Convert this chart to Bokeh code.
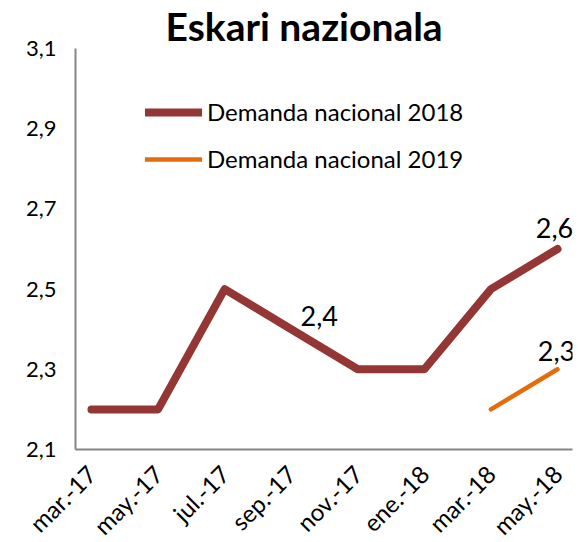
import math
from bokeh.plotting import figure
from bokeh.models import Range1d, FixedTicker, CustomJSTickFormatter, Legend, LegendItem, ColumnDataSource, LabelSet
from bokeh.core.properties import value
from bokeh.embed import file_html
from bokeh.resources import INLINE

months = ["mar.-17", "may.-17", "jul.-17", "sep.-17", "nov.-17", "ene.-18", "mar.-18", "may.-18"]
d2018 = [2.2, 2.2, 2.5, 2.4, 2.3, 2.3, 2.5, 2.6]
d2019 = [float("nan")] * 6 + [2.2, 2.3]
y_ticks = [2.1, 2.3, 2.5, 2.7, 2.9, 3.1]
label_idx = [3, 7, 7]
label_val = [2.4, 2.6, 2.3]
label_txt = ["2,4", "2,6", "2,3"]
label_dx = [28, -3, -1]
label_dy = [13, 21, 18]

FONT = "Lato"
xs = list(range(len(months)))

p = figure(frame_width=497, frame_height=401, output_backend="svg", toolbar_location=None,
           x_range=Range1d(-0.24, 7.225), y_range=Range1d(2.1, 3.1),
           min_border_left=75, min_border_right=6, min_border_top=47, min_border_bottom=80)
p.title.text = "Eskari nazionala"
p.title.text_font = FONT
p.title.text_font_size = "39px"
p.title.text_font_style = "bold"
p.title.text_color = "black"
p.title.align = "left"
p.title.offset = 90
p.title.standoff = 0
p.outline_line_color = None
p.grid.visible = False
p.background_fill_color = "white"

r1 = p.line(xs, d2018, line_color="#943634", line_width=8, line_cap="round", line_join="round")
r2 = p.line(xs, d2019, line_color="#E46C0A", line_width=4.5, line_cap="round", line_join="round")

src = ColumnDataSource(dict(x=label_idx, y=label_val, t=label_txt, dx=label_dx, dy=label_dy))
p.add_layout(LabelSet(x="x", y="y", text="t", x_offset="dx", y_offset="dy", source=src,
                      text_font=value(FONT), text_font_size="27px", text_color="black",
                      text_align="center", text_baseline="middle"))

p.xaxis.ticker = FixedTicker(ticks=xs)
p.xaxis.formatter = CustomJSTickFormatter(args=dict(labels=months), code="return labels[tick];")
p.xaxis.major_label_orientation = math.pi / 4
p.yaxis.ticker = FixedTicker(ticks=y_ticks)
p.yaxis.formatter = CustomJSTickFormatter(code="return tick.toFixed(1).replace('.', ',');")
for ax in (p.xaxis[0], p.yaxis[0]):
    ax.axis_line_color = "#868686"
    ax.axis_line_width = 2
    ax.major_tick_line_color = None
    ax.minor_tick_line_color = None
    ax.major_tick_out = 0
    ax.major_tick_in = 0
    ax.minor_tick_out = 0
    ax.minor_tick_in = 0
    ax.major_label_text_font = FONT
    ax.major_label_text_color = "black"
p.yaxis.major_label_text_font_size = "22px"
p.xaxis.major_label_text_font_size = "24px"
p.yaxis.major_label_standoff = 19
p.xaxis.major_label_standoff = 20

legend = Legend(items=[LegendItem(label="Demanda nacional 2018", renderers=[r1]),
                       LegendItem(label="Demanda nacional 2019", renderers=[r2])],
                location=(70, 276), padding=0, margin=0, spacing=18,
                glyph_width=57, glyph_height=28, label_height=28, label_standoff=5,
                label_text_font=FONT, label_text_font_size="24px", label_text_baseline="middle",
                label_text_color="black",
                border_line_color=None, background_fill_alpha=0)
p.add_layout(legend, "center")

open("out.html", "w").write(file_html(p, INLINE))
